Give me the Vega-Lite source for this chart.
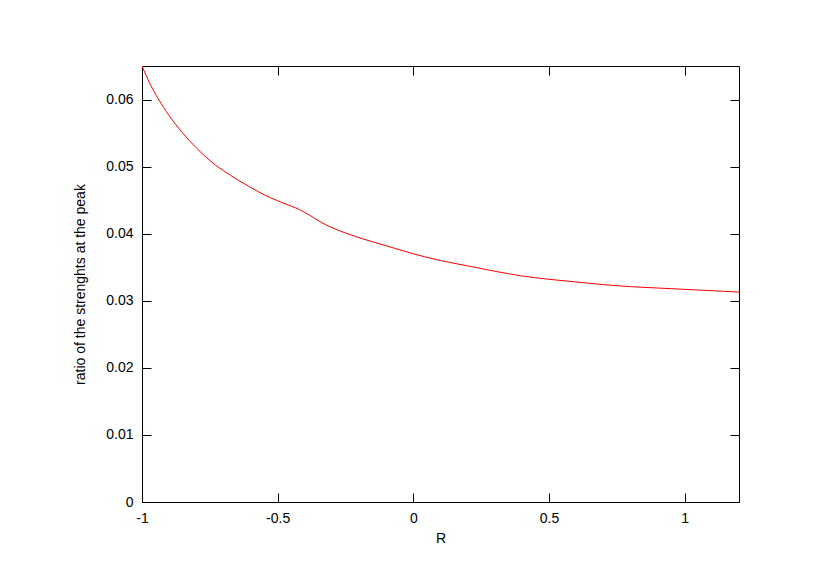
{
  "$schema": "https://vega.github.io/schema/vega-lite/v6.json",
  "width": 597,
  "height": 436,
  "autosize": {"type": "none"},
  "padding": {"left": 142, "top": 66, "right": 91, "bottom": 85},
  "background": "white",
  "config": {
    "view": {"stroke": "black", "strokeWidth": 1},
    "font": "Liberation Sans",
    "axis": {
      "grid": false,
      "domainColor": "black",
      "tickColor": "black",
      "tickSize": -9,
      "labelFont": "Liberation Sans",
      "labelFontSize": 14,
      "labelColor": "black",
      "titleFont": "Liberation Sans",
      "titleFontSize": 14,
      "titleFontWeight": "normal",
      "titleColor": "black"
    }
  },
  "data": {
    "values": [
      {"R": -1.0, "ratio": 0.065},
      {"R": -0.97, "ratio": 0.0623},
      {"R": -0.94, "ratio": 0.0601},
      {"R": -0.9, "ratio": 0.0576},
      {"R": -0.85, "ratio": 0.055},
      {"R": -0.8, "ratio": 0.0528},
      {"R": -0.75, "ratio": 0.0509},
      {"R": -0.7, "ratio": 0.0494},
      {"R": -0.65, "ratio": 0.0481},
      {"R": -0.6, "ratio": 0.0469},
      {"R": -0.55, "ratio": 0.0458},
      {"R": -0.5, "ratio": 0.0449},
      {"R": -0.45, "ratio": 0.0441},
      {"R": -0.42, "ratio": 0.0436},
      {"R": -0.38, "ratio": 0.0427},
      {"R": -0.34, "ratio": 0.0417},
      {"R": -0.3, "ratio": 0.0409},
      {"R": -0.25, "ratio": 0.0401},
      {"R": -0.2, "ratio": 0.0394},
      {"R": -0.1, "ratio": 0.0382},
      {"R": 0.0, "ratio": 0.037},
      {"R": 0.1, "ratio": 0.036},
      {"R": 0.2, "ratio": 0.0352},
      {"R": 0.3, "ratio": 0.0344},
      {"R": 0.4, "ratio": 0.0337},
      {"R": 0.5, "ratio": 0.0332},
      {"R": 0.6, "ratio": 0.0328},
      {"R": 0.7, "ratio": 0.0324},
      {"R": 0.8, "ratio": 0.0321},
      {"R": 0.9, "ratio": 0.0319},
      {"R": 1.0, "ratio": 0.0317},
      {"R": 1.1, "ratio": 0.0315},
      {"R": 1.2, "ratio": 0.0313}
    ]
  },
  "layer": [
    {
      "mark": {"type": "line", "color": "#ff0000", "strokeWidth": 1, "clip": true, "interpolate": "monotone"},
      "encoding": {
        "x": {
          "field": "R", "type": "quantitative",
          "scale": {"domain": [-1, 1.2], "nice": false, "zero": false},
          "axis": {"title": "R", "values": [-1, -0.5, 0, 0.5, 1], "labelExpr": "datum.value + ''", "labelPadding": 18, "titlePadding": 6, "labelFlush": false}
        },
        "y": {
          "field": "ratio", "type": "quantitative",
          "scale": {"domain": [0, 0.065], "nice": false},
          "axis": {"title": "ratio of the strenghts at the peak", "values": [0, 0.01, 0.02, 0.03, 0.04, 0.05, 0.06], "labelExpr": "datum.value + ''", "labelPadding": 18, "titlePadding": 18}
        }
      }
    },
    {
      "mark": {"type": "line", "strokeOpacity": 0},
      "encoding": {
        "x": {"field": "R", "type": "quantitative", "axis": {"orient": "top", "title": null, "labels": false, "values": [-1, -0.5, 0, 0.5, 1], "domain": false}},
        "y": {"field": "ratio", "type": "quantitative", "axis": {"orient": "right", "title": null, "labels": false, "values": [0, 0.01, 0.02, 0.03, 0.04, 0.05, 0.06], "domain": false}}
      }
    }
  ],
  "resolve": {"axis": {"x": "independent", "y": "independent"}}
}
